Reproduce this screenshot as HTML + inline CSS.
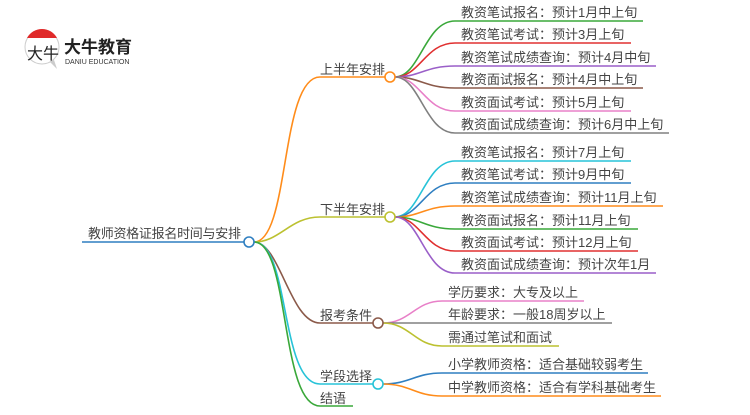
<!DOCTYPE html>
<html><head><meta charset="utf-8"><style>
html,body{margin:0;padding:0;background:#fff;}
svg text{font-family:"Liberation Sans","Noto Sans CJK SC",sans-serif;fill:#444;}
</style></head><body>
<svg width="750" height="410" viewBox="0 0 750 410" xmlns="http://www.w3.org/2000/svg">
<circle cx="42" cy="47" r="17" fill="#fff" stroke="#ccc" stroke-width="1"/>
<path d="M27,38 A17,17 0 0 1 57,38 Z" fill="#e02a2a"/>
<path d="M50,62 L57,69 L54,60 Z" fill="#ccc"/>
<text x="27" y="59" font-size="16" style="fill:#222">大牛</text>
<text x="64" y="53" font-size="17" font-weight="bold" style="fill:#222">大牛教育</text>
<text x="65" y="64" font-size="7" style="fill:#333">DANIU EDUCATION</text>

<g fill="none" stroke-width="1.6">
<path d="M82,242 H244" stroke="#2f7fc1"/>
<path d="M254,242 C290,242 280,77 320,77 H385" stroke="#ff8c1a"/>
<path d="M254,242 C280,242 290,217 320,217 H385" stroke="#bcc130"/>
<path d="M254,242 C280,242 290,323 320,323 H373" stroke="#8b5a4a"/>
<path d="M254,242 C290,242 280,384 320,384 H373" stroke="#27c3d8"/>
<path d="M254,242 C290,242 280,406 320,406 H353" stroke="#3aa83a"/>
<path d="M395,77 C420,77 425,21 455,21 H643" stroke="#3aa83a"/>
<path d="M395,77 C420,77 425,43 455,43 H631" stroke="#e03030"/>
<path d="M395,77 C420,77 425,66 455,66 H656" stroke="#9a5fc8"/>
<path d="M395,77 C420,77 425,88 455,88 H643" stroke="#8b5a4a"/>
<path d="M395,77 C420,77 425,111 455,111 H631" stroke="#e880c8"/>
<path d="M395,77 C420,77 425,133 455,133 H669" stroke="#808080"/>
<path d="M395,217 C420,217 425,161 455,161 H631" stroke="#27c3d8"/>
<path d="M395,217 C420,217 425,183 455,183 H631" stroke="#2f7fc1"/>
<path d="M395,217 C420,217 425,206 455,206 H663" stroke="#ff8c1a"/>
<path d="M395,217 C420,217 425,229 455,229 H638" stroke="#3aa83a"/>
<path d="M395,217 C420,217 425,251 455,251 H638" stroke="#e03030"/>
<path d="M395,217 C420,217 425,273 455,273 H656" stroke="#9a5fc8"/>
<path d="M383,323 C410,323 415,301 442,301 H584" stroke="#e880c8"/>
<path d="M383,323 H612" stroke="#808080"/>
<path d="M383,323 C410,323 415,346 442,346 H559" stroke="#bcc130"/>
<path d="M383,384 C410,384 415,373 442,373 H648" stroke="#2f7fc1"/>
<path d="M383,384 C410,384 415,396 442,396 H661" stroke="#ff8c1a"/>
</g>
<g fill="#fff" stroke-width="1.6">
<circle cx="249" cy="242" r="5" stroke="#2f7fc1"/>
<circle cx="390" cy="77" r="5" stroke="#ff8c1a"/>
<circle cx="390" cy="217" r="5" stroke="#bcc130"/>
<circle cx="378" cy="323" r="5" stroke="#8b5a4a"/>
<circle cx="378" cy="384" r="5" stroke="#27c3d8"/>
</g>
<g font-size="13">
<text x="88" y="238" textLength="153">教师资格证报名时间与安排</text>
<text x="320" y="74">上半年安排</text>
<text x="320" y="214">下半年安排</text>
<text x="320" y="320">报考条件</text>
<text x="320" y="381">学段选择</text>
<text x="320" y="403">结语</text>
<text x="461" y="17">教资笔试报名：预计1月中上旬</text>
<text x="461" y="39">教资笔试考试：预计3月上旬</text>
<text x="461" y="62">教资笔试成绩查询：预计4月中旬</text>
<text x="461" y="84">教资面试报名：预计4月中上旬</text>
<text x="461" y="107">教资面试考试：预计5月上旬</text>
<text x="461" y="129">教资面试成绩查询：预计6月中上旬</text>
<text x="461" y="157">教资笔试报名：预计7月上旬</text>
<text x="461" y="179">教资笔试考试：预计9月中旬</text>
<text x="461" y="202">教资笔试成绩查询：预计11月上旬</text>
<text x="461" y="225">教资面试报名：预计11月上旬</text>
<text x="461" y="247">教资面试考试：预计12月上旬</text>
<text x="461" y="269">教资面试成绩查询：预计次年1月</text>
<text x="448" y="297">学历要求：大专及以上</text>
<text x="448" y="319">年龄要求：一般18周岁以上</text>
<text x="448" y="342">需通过笔试和面试</text>
<text x="448" y="369">小学教师资格：适合基础较弱考生</text>
<text x="448" y="392">中学教师资格：适合有学科基础考生</text>
</g>
</svg>
</body></html>
